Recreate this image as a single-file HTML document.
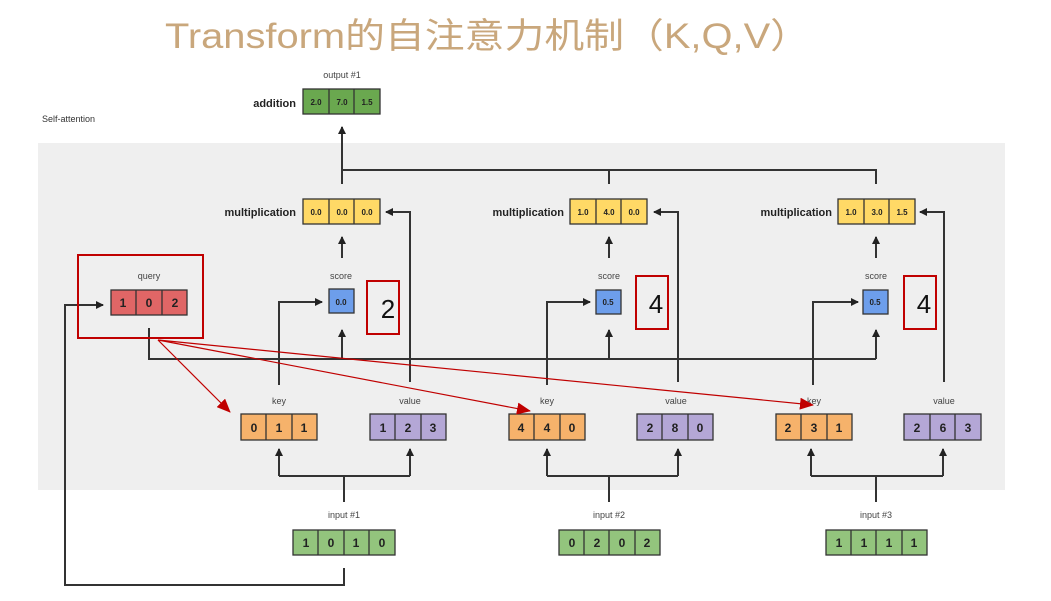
<!DOCTYPE html>
<html><head><meta charset="utf-8"><style>
html,body{margin:0;padding:0;background:#fff;width:1051px;height:601px;overflow:hidden}
svg{display:block}
text{font-family:"Liberation Sans",Arial,sans-serif}
</style></head><body>
<svg width="1051" height="601" viewBox="0 0 1051 601" xmlns="http://www.w3.org/2000/svg">
<defs>
<marker id="a" markerWidth="8" markerHeight="8" refX="7" refY="4" orient="auto" markerUnits="userSpaceOnUse"><path d="M0,0 L8,4 L0,8 z" fill="#222"/></marker>
<marker id="r" markerWidth="14" markerHeight="12" refX="13" refY="6" orient="auto" markerUnits="userSpaceOnUse"><path d="M0,0 L14,6 L0,12 z" fill="#c00000"/></marker>
</defs>
<text x="165" y="48" font-size="35" fill="#c9a77c" textLength="645" lengthAdjust="spacingAndGlyphs" style="font-family:'Liberation Sans','Noto Sans CJK SC',sans-serif">Transform的自注意力机制（K,Q,V）</text>
<text x="42" y="122" font-size="9" fill="#333">Self-attention</text>
<rect x="38" y="143" width="967" height="347" fill="#efefef"/>

<g stroke="#333" stroke-width="2" fill="none">
<!-- output -->
<path d="M342,184 V127" marker-end="url(#a)"/>
<path d="M342,170 H876 V184 M609,170 V184"/>
<!-- score to mult -->
<path d="M342,258 V237" marker-end="url(#a)"/>
<path d="M609,258 V237" marker-end="url(#a)"/>
<path d="M876,258 V237" marker-end="url(#a)"/>
<!-- value to mult -->
<path d="M410,382 V212 H386" marker-end="url(#a)"/>
<path d="M678,382 V212 H654" marker-end="url(#a)"/>
<path d="M944,382 V212 H920" marker-end="url(#a)"/>
<!-- key to score -->
<path d="M279,385 V302 H322" marker-end="url(#a)"/>
<path d="M547,385 V302 H590" marker-end="url(#a)"/>
<path d="M813,385 V302 H858" marker-end="url(#a)"/>
<!-- query line -->
<path d="M149,328 V359 H876"/>
<path d="M342,359 V330" marker-end="url(#a)"/>
<path d="M609,359 V330" marker-end="url(#a)"/>
<path d="M876,359 V330" marker-end="url(#a)"/>
<!-- feedback -->
<path d="M344,568 V585 H65 V305 H103" marker-end="url(#a)"/>
<!-- inputs -->
<path d="M344,502 V476 M279,476 H410 M279,476 V450 M410,476 V450" />
<path d="M279,476 V449" marker-end="url(#a)"/><path d="M410,476 V449" marker-end="url(#a)"/>
<path d="M609,502 V476 M547,476 H678"/>
<path d="M547,476 V449" marker-end="url(#a)"/><path d="M678,476 V449" marker-end="url(#a)"/>
<path d="M876,502 V476 M811,476 H943"/>
<path d="M811,476 V449" marker-end="url(#a)"/><path d="M943,476 V449" marker-end="url(#a)"/>
</g>

<g font-size="9" fill="#444" text-anchor="middle">
<text x="342" y="78">output #1</text>
<text x="149" y="279">query</text>
<text x="341" y="279">score</text><text x="609" y="279">score</text><text x="876" y="279">score</text>
<text x="279" y="404">key</text><text x="410" y="404">value</text>
<text x="547" y="404">key</text><text x="676" y="404">value</text>
<text x="814" y="404">key</text><text x="944" y="404">value</text>
<text x="344" y="518">input #1</text><text x="609" y="518">input #2</text><text x="876" y="518">input #3</text>
</g>
<g font-size="11" font-weight="bold" fill="#222" text-anchor="end">
<text x="296" y="107">addition</text>
<text x="296" y="216">multiplication</text>
<text x="564" y="216">multiplication</text>
<text x="832" y="216">multiplication</text>
</g>

<g stroke="#333" stroke-width="1.3">
<!-- addition -->
<rect x="303" y="89" width="77" height="25" fill="#6aa84f"/><path d="M329,89V114M354,89V114"/>
<rect x="303" y="199" width="77" height="25" fill="#ffd966"/><path d="M329,199V224M354,199V224"/>
<rect x="570" y="199" width="77" height="25" fill="#ffd966"/><path d="M596,199V224M621,199V224"/>
<rect x="838" y="199" width="77" height="25" fill="#ffd966"/><path d="M864,199V224M889,199V224"/>
<rect x="329" y="289" width="25" height="24" fill="#6d9eeb"/>
<rect x="596" y="290" width="25" height="24" fill="#6d9eeb"/>
<rect x="863" y="290" width="25" height="24" fill="#6d9eeb"/>
<rect x="111" y="290" width="76" height="25" fill="#e06666"/><path d="M136,290V315M162,290V315"/>
<rect x="241" y="414" width="76" height="26" fill="#f6b26b"/><path d="M266,414V440M292,414V440"/>
<rect x="370" y="414" width="76" height="26" fill="#b4a7d6"/><path d="M395,414V440M421,414V440"/>
<rect x="509" y="414" width="76" height="26" fill="#f6b26b"/><path d="M534,414V440M560,414V440"/>
<rect x="637" y="414" width="76" height="26" fill="#b4a7d6"/><path d="M662,414V440M688,414V440"/>
<rect x="776" y="414" width="76" height="26" fill="#f6b26b"/><path d="M801,414V440M827,414V440"/>
<rect x="904" y="414" width="77" height="26" fill="#b4a7d6"/><path d="M930,414V440M955,414V440"/>
<rect x="293" y="530" width="102" height="25" fill="#93c47d"/><path d="M318,530V555M344,530V555M369,530V555"/>
<rect x="559" y="530" width="101" height="25" fill="#93c47d"/><path d="M584,530V555M609,530V555M635,530V555"/>
<rect x="826" y="530" width="101" height="25" fill="#93c47d"/><path d="M851,530V555M876,530V555M902,530V555"/>
</g>

<g font-size="8" font-weight="bold" fill="#222" text-anchor="middle">
<text x="316" y="105">2.0</text><text x="342" y="105">7.0</text><text x="367" y="105">1.5</text>
<text x="316" y="215">0.0</text><text x="342" y="215">0.0</text><text x="367" y="215">0.0</text>
<text x="583" y="215">1.0</text><text x="609" y="215">4.0</text><text x="634" y="215">0.0</text>
<text x="851" y="215">1.0</text><text x="877" y="215">3.0</text><text x="902" y="215">1.5</text>
<text x="341" y="305">0.0</text><text x="608" y="305">0.5</text><text x="875" y="305">0.5</text>
</g>
<g font-size="12" font-weight="bold" fill="#222" text-anchor="middle">
<text x="123" y="307">1</text><text x="149" y="307">0</text><text x="175" y="307">2</text>
<text x="254" y="432">0</text><text x="279" y="432">1</text><text x="304" y="432">1</text>
<text x="383" y="432">1</text><text x="408" y="432">2</text><text x="433" y="432">3</text>
<text x="521" y="432">4</text><text x="547" y="432">4</text><text x="572" y="432">0</text>
<text x="650" y="432">2</text><text x="675" y="432">8</text><text x="700" y="432">0</text>
<text x="788" y="432">2</text><text x="814" y="432">3</text><text x="839" y="432">1</text>
<text x="917" y="432">2</text><text x="943" y="432">6</text><text x="968" y="432">3</text>
<text x="306" y="547">1</text><text x="331" y="547">0</text><text x="356" y="547">1</text><text x="382" y="547">0</text>
<text x="572" y="547">0</text><text x="597" y="547">2</text><text x="622" y="547">0</text><text x="647" y="547">2</text>
<text x="839" y="547">1</text><text x="864" y="547">1</text><text x="889" y="547">1</text><text x="914" y="547">1</text>
</g>

<g fill="none" stroke="#c00000" stroke-width="2">
<rect x="78" y="255" width="125" height="83"/>
<rect x="367" y="281" width="32" height="53"/>
<rect x="636" y="276" width="32" height="53"/>
<rect x="904" y="276" width="32" height="53"/>
</g>
<g font-size="26" fill="#111" text-anchor="middle">
<text x="388" y="318">2</text><text x="656" y="313">4</text><text x="924" y="313">4</text>
</g>
<g stroke="#c00000" stroke-width="1.2" fill="none">
<path d="M158,340 L230,412" marker-end="url(#r)"/>
<path d="M158,340 L530,411" marker-end="url(#r)"/>
<path d="M158,340 L813,405" marker-end="url(#r)"/>
</g>
</svg>
</body></html>
